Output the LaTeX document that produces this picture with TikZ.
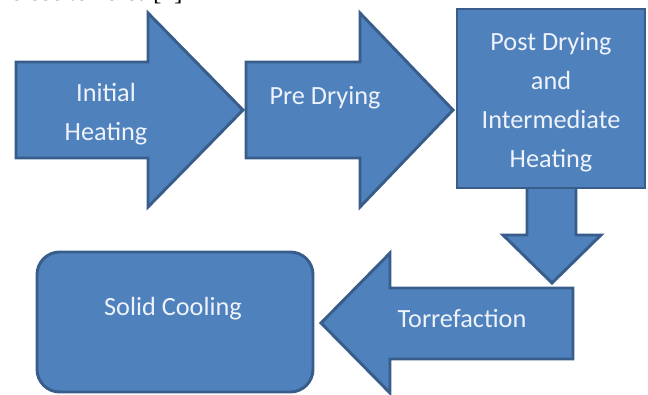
\documentclass[tikz,border=0pt]{standalone}
\usepackage{fontspec}
\setmainfont{Carlito}
\newfontfamily\captionfont{Liberation Serif}
\usepackage{xcolor}
\usetikzlibrary{positioning}
\definecolor{stepfill}{HTML}{4F81BD}
\definecolor{stepline}{HTML}{385D8A}
\definecolor{steptext}{HTML}{EEF2FA}

\begin{document}
\begin{tikzpicture}[x=0.75pt,y=-0.75pt,
    blockshape/.style={fill=stepfill, draw=stepline, line width=2.2pt, line join=miter},
    blocklabel/.style={text=steptext, font=\fontsize{19.7}{29.25}\selectfont, align=center, inner sep=0pt}]
		\useasboundingbox (0,0) rectangle (648,394);
		\clip (0,0) rectangle (648,394);

		% cut-off line of the page text above the figure
		\node[anchor=base west, inner sep=0pt, font=\captionfont\fontsize{19}{21}\selectfont] (pagetext) at (10,0.5) {close to zero. [4]};

		% block arrows and boxes
		\draw[blockshape] (16,62) -- (148,62) -- (148,13) -- (243,110) -- (148,207) -- (148,158) -- (16,158) -- cycle;
		\draw[blockshape] (246,62) -- (360,62) -- (360,13) -- (453,110) -- (360,207) -- (360,158) -- (246,158) -- cycle;
		\draw[blockshape] (527,180) -- (527,235) -- (503,235) -- (552,283) -- (601,235) -- (576,235) -- (576,180) -- cycle;
		\draw[blockshape] (457,9) rectangle (645,188);
		\draw[blockshape] (573,288) -- (390,288) -- (390,253) -- (321,323) -- (390,393) -- (390,359) -- (573,359) -- cycle;
		\draw[blockshape, rounded corners=17pt] (37,252) rectangle (313,392);

		\node[blocklabel] (initial) at (106,114) {Initial\\Heating};
		\node[blocklabel] (predry) at (325,98) {Pre Drying};
		\node[blocklabel] (postdry) at (551,102) {Post Drying\\and\\Intermediate\\Heating};
		\node[blocklabel] (torref) at (462,319) {Torrefaction};
		\node[blocklabel] (cooling) at (173,309) {Solid Cooling};
\end{tikzpicture}
\end{document}
